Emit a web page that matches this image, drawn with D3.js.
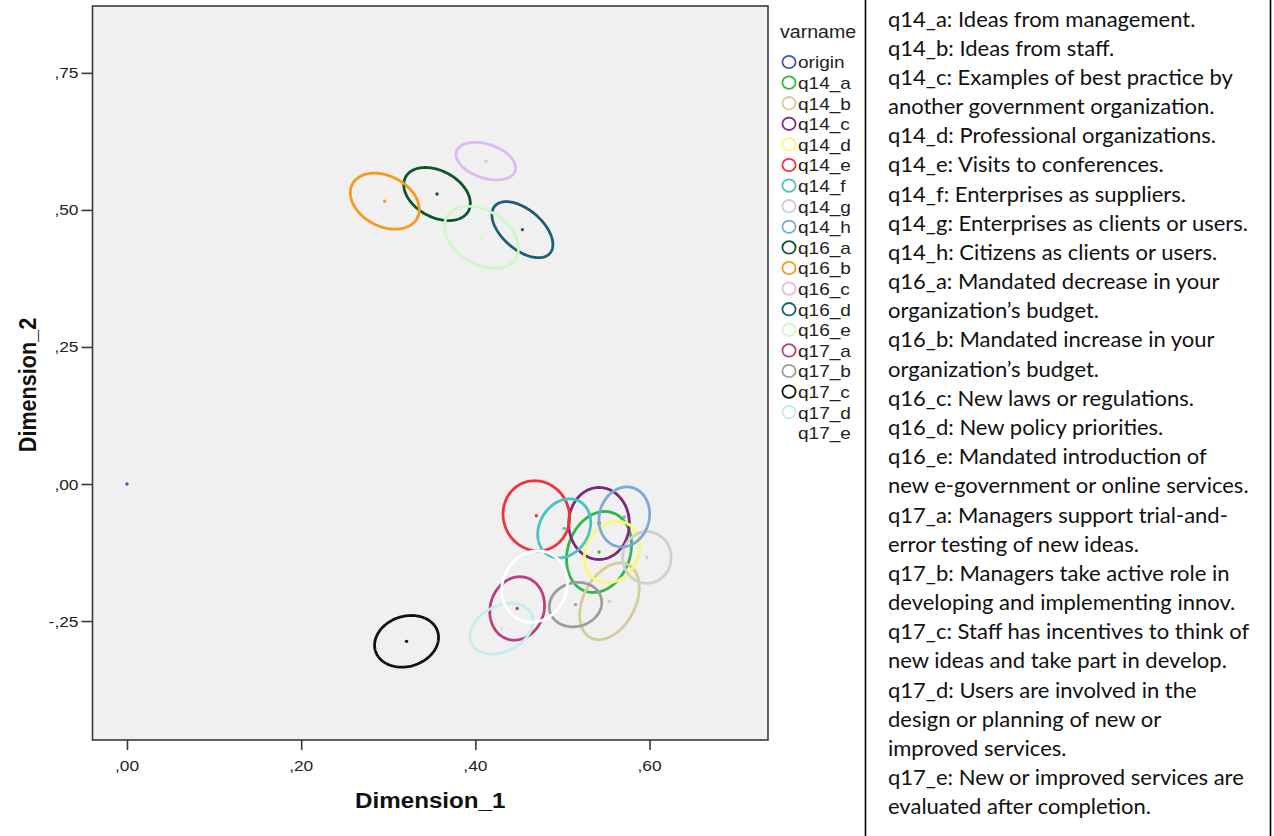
<!DOCTYPE html>
<html>
<head>
<meta charset="utf-8">
<script src="https://cdn.jsdelivr.net/npm/d3@7"></script>
<style>
  html, body { margin: 0; padding: 0; background: #ffffff; }
  svg { display: block; }
</style>
</head>
<body>
<svg id="chart" width="1274" height="836"></svg>
<script>
// Category points (dimension coordinates) with their confidence regions
const varnames = ["origin", "q14_a", "q14_b", "q14_c", "q14_d", "q14_e", "q14_f", "q14_g", "q14_h",
                  "q16_a", "q16_b", "q16_c", "q16_d", "q16_e",
                  "q17_a", "q17_b", "q17_c", "q17_d", "q17_e"];
const dim1 =    [0.000, 0.542, 0.554, 0.542, 0.557, 0.470, 0.502, 0.597, 0.571,
                 0.356, 0.296, 0.412, 0.454, 0.407,
                 0.448, 0.515, 0.321, 0.430, 0.468];
const dim2 =    [0.000, -0.124, -0.214, -0.072, -0.124, -0.058, -0.081, -0.134, -0.060,
                 0.529, 0.516, 0.589, 0.464, 0.450,
                 -0.227, -0.220, -0.287, -0.264, -0.187];
// half-extents of each confidence ellipse along Dimension_1 / Dimension_2, and their correlation
const spread1 = [0.000, 0.0373, 0.0342, 0.0348, 0.0318, 0.0382, 0.0304, 0.0278, 0.0291,
                 0.0382, 0.0396, 0.0342, 0.0350, 0.0425,
                 0.0314, 0.0301, 0.0367, 0.0362, 0.0377];
const spread2 = [0.000, 0.0739, 0.0699, 0.0657, 0.0562, 0.0639, 0.0538, 0.0471, 0.0547,
                 0.0484, 0.0511, 0.0343, 0.0511, 0.0566,
                 0.0578, 0.0405, 0.0471, 0.0462, 0.0651];
const corr =    [0.00, 0.18, 0.36, 0.00, 0.18, -0.05, 0.20, 0.00, 0.10,
                 -0.35, -0.30, -0.36, -0.53, -0.35,
                 0.10, 0.10, 0.15, 0.30, 0.10];

const palette = ["#3e58ac", "#2eb848", "#d3ce97", "#7c287d", "#fbf873", "#ef3338", "#48c2c5", "#cfcfcf", "#7aaad5",
                 "#0a562c", "#f8981d", "#ddbaf1", "#1b5f77", "#cdf9c6",
                 "#bb3f7f", "#9c9c9c", "#111111", "#c4ecec", "#ffffff"];

const xTicks = [0, 0.2, 0.4, 0.6];
const yTicks = [-0.25, 0, 0.25, 0.5, 0.75];
const xDomain = [-0.0396, 0.736];
const yDomain = [-0.467, 0.872];

const notes = [
  "q14_a: Ideas from management.",
  "q14_b: Ideas from staff.",
  "q14_c: Examples of best practice by",
  "another government organization.",
  "q14_d: Professional organizations.",
  "q14_e: Visits to conferences.",
  "q14_f: Enterprises as suppliers.",
  "q14_g: Enterprises as clients or users.",
  "q14_h: Citizens as clients or users.",
  "q16_a: Mandated decrease in your",
  "organization\u2019s budget.",
  "q16_b: Mandated increase in your",
  "organization\u2019s budget.",
  "q16_c: New laws or regulations.",
  "q16_d: New policy priorities.",
  "q16_e: Mandated introduction of",
  "new e-government or online services.",
  "q17_a: Managers support trial-and-",
  "error testing of new ideas.",
  "q17_b: Managers take active role in",
  "developing and implementing innov.",
  "q17_c: Staff has incentives to think of",
  "new ideas and take part in develop.",
  "q17_d: Users are involved in the",
  "design or planning of new or",
  "improved services.",
  "q17_e: New or improved services are",
  "evaluated after completion."
];

const svg = d3.select("#chart");
const plot = { left: 92.5, right: 768, top: 6, bottom: 740 };
const stretch = 1.12;   // glyphs in the chart panel are slightly wide
const chartFont = "'Liberation Sans', Arial, sans-serif";

const x = d3.scaleLinear().domain(xDomain).range([plot.left, plot.right]);
const y = d3.scaleLinear().domain(yDomain).range([plot.bottom, plot.top]);

// ",25" style labels with a plain hyphen for negatives
const fmt = d => (d < 0 ? "-" : "") + d3.format(".2f")(Math.abs(d)).replace("0.", ",");

// plot background
svg.append("rect")
  .attr("x", plot.left).attr("y", plot.top)
  .attr("width", plot.right - plot.left).attr("height", plot.bottom - plot.top)
  .attr("fill", "#f0f0f0");

const data = varnames.map((v, i) => ({
  name: v, cx: dim1[i], cy: dim2[i], sx: spread1[i], sy: spread2[i], r: corr[i], color: palette[i]
}));

// confidence ellipses traced in data space, then mapped through the scales
const steps = d3.range(0, 2 * Math.PI, Math.PI / 90);
const ellipseLine = d3.line().x(p => x(p[0])).y(p => y(p[1])).curve(d3.curveLinearClosed);
svg.append("clipPath").attr("id", "plotclip").append("rect")
  .attr("x", plot.left).attr("y", plot.top)
  .attr("width", plot.right - plot.left).attr("height", plot.bottom - plot.top);

const marks = svg.append("g").attr("clip-path", "url(#plotclip)");
data.forEach(d => {
  if (d.sx > 0 && d.sy > 0) {
    const k = Math.sqrt(1 - d.r * d.r);
    const pts = steps.map(t => [d.cx + d.sx * Math.cos(t), d.cy + d.sy * (d.r * Math.cos(t) + k * Math.sin(t))]);
    marks.append("path")
      .attr("d", ellipseLine(pts))
      .attr("fill", "none")
      .attr("stroke", d.color)
      .attr("stroke-width", 2.8);
  }
  marks.append("circle")
    .attr("cx", x(d.cx)).attr("cy", y(d.cy)).attr("r", 1.7)
    .attr("fill", d.color);
});

// frame
svg.append("rect")
  .attr("x", plot.left).attr("y", plot.top)
  .attr("width", plot.right - plot.left).attr("height", plot.bottom - plot.top)
  .attr("fill", "none").attr("stroke", "#3a3a3a").attr("stroke-width", 1.6);

// axes
const xAxis = svg.append("g").attr("transform", `translate(0,${plot.bottom})`)
  .call(d3.axisBottom(x).tickValues(xTicks).tickSize(10).tickFormat(""));
const yAxis = svg.append("g").attr("transform", `translate(${plot.left},0)`)
  .call(d3.axisLeft(y).tickValues(yTicks).tickSize(11).tickFormat(""));
[xAxis, yAxis].forEach(a => {
  a.select(".domain").remove();
  a.selectAll(".tick line").attr("stroke", "#3a3a3a").attr("stroke-width", 1.6);
});

xTicks.forEach(v => {
  svg.append("text")
    .attr("transform", `translate(${x(v)},${plot.bottom + 31}) scale(${stretch},1)`)
    .attr("text-anchor", "middle")
    .attr("font-family", chartFont).attr("font-size", 15.5)
    .attr("fill", "#222").text(fmt(v));
});
yTicks.forEach(v => {
  svg.append("text")
    .attr("transform", `translate(${plot.left - 14},${y(v) + 5.5}) scale(${stretch},1)`)
    .attr("text-anchor", "end")
    .attr("font-family", chartFont).attr("font-size", 15.5)
    .attr("fill", "#222").text(fmt(v));
});

// axis titles
svg.append("text")
  .attr("transform", `translate(${(plot.left + plot.right) / 2},${808}) scale(${stretch},1)`)
  .attr("text-anchor", "middle")
  .attr("font-family", chartFont).attr("font-size", 21.6).attr("font-weight", "bold")
  .attr("fill", "#111").text("Dimension_1");
svg.append("text")
  .attr("transform", `translate(${36},${(plot.top + plot.bottom) / 2 + 12}) scale(${stretch},1) rotate(-90)`)
  .attr("text-anchor", "middle")
  .attr("font-family", chartFont).attr("font-size", 21.6).attr("font-weight", "bold")
  .attr("fill", "#111").text("Dimension_2");

// legend
const legend = svg.append("g");
legend.append("text")
  .attr("transform", `translate(780,38) scale(${stretch},1)`)
  .attr("font-family", chartFont).attr("font-size", 17.5)
  .attr("fill", "#222").text("varname");
data.forEach((d, i) => {
  const ry = 62 + i * 20.6;
  legend.append("ellipse")
    .attr("cx", 789).attr("cy", ry).attr("rx", 6.6).attr("ry", 6.2)
    .attr("fill", "none").attr("stroke", d.color).attr("stroke-width", 1.8);
  legend.append("text")
    .attr("transform", `translate(798,${ry + 6.3}) scale(${stretch},1)`)
    .attr("font-family", chartFont).attr("font-size", 17)
    .attr("fill", "#222").text(d.name);
});

// description panel
svg.append("line").attr("x1", 865.5).attr("x2", 865.5).attr("y1", 0).attr("y2", 836)
  .attr("stroke", "#000").attr("stroke-width", 1.6);
svg.append("line").attr("x1", 1270.5).attr("x2", 1270.5).attr("y1", 0).attr("y2", 836)
  .attr("stroke", "#000").attr("stroke-width", 1.6);
svg.append("g").selectAll("text").data(notes).join("text")
  .attr("x", 888)
  .attr("y", (d, i) => 26.5 + i * 29.18)
  .attr("font-family", "Lato, 'Open Sans', sans-serif")
  .attr("font-size", 22)
  .attr("fill", "#111")
  .text(d => d);
</script>
</body>
</html>
